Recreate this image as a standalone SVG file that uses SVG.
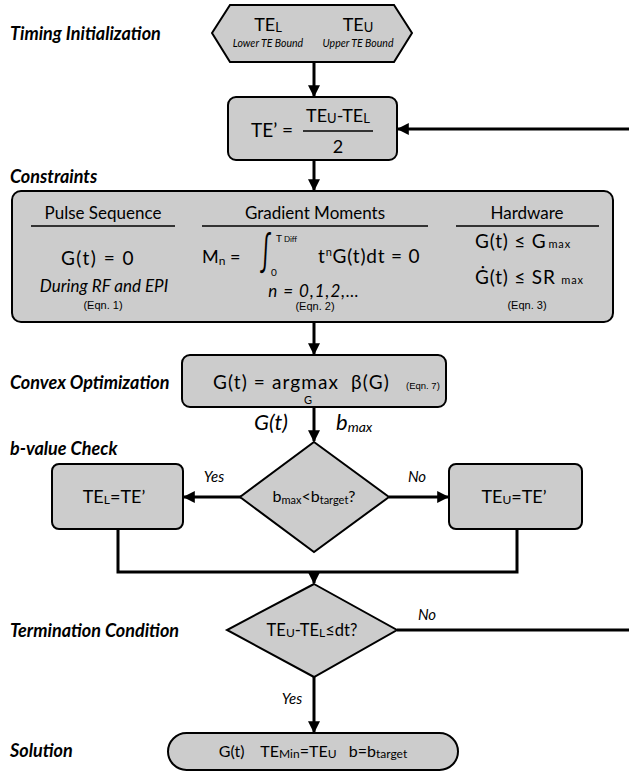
<svg xmlns="http://www.w3.org/2000/svg" width="629" height="774" viewBox="0 0 629 774">
<style>
.n{fill:#cccccc;stroke:#000;stroke-width:2}
.c{stroke:#000;stroke-width:3;fill:none}
.u{stroke:#000;stroke-width:1.5}
text{font-family:Lato,'Open Sans','Liberation Sans',sans-serif;fill:#000}
.lab{font-style:italic;font-weight:bold;font-size:18px}
.eq{font-family:'Liberation Sans',Arial,sans-serif;font-size:11px}
.it{font-style:italic}
</style>
<defs>
<marker id="ah" viewBox="0 0 10 10" refX="9" refY="5" markerWidth="4" markerHeight="4" orient="auto"><path d="M0,0L10,5L0,10z" fill="#000"/></marker>
</defs>

<g id="labels">
<text class="lab" x="10" y="40">Timing Initialization</text>
<text class="lab" x="10" y="183">Constraints</text>
<text class="lab" x="10" y="389">Convex Optimization</text>
<text class="lab" x="10" y="455">b-value Check</text>
<text class="lab" x="10" y="637">Termination Condition</text>
<text class="lab" x="10" y="757">Solution</text>
</g>

<g id="connectors">
<line class="c" x1="314" y1="62" x2="314" y2="96" marker-end="url(#ah)"/>
<line class="c" x1="629" y1="129" x2="398" y2="129" marker-end="url(#ah)"/>
<line class="c" x1="314" y1="160" x2="314" y2="190" marker-end="url(#ah)"/>
<line class="c" x1="314" y1="322" x2="314" y2="354" marker-end="url(#ah)"/>
<line class="c" x1="314" y1="407" x2="314" y2="441" marker-end="url(#ah)"/>
<line class="c" x1="241" y1="497" x2="184" y2="497" marker-end="url(#ah)"/>
<line class="c" x1="389" y1="497" x2="448" y2="497" marker-end="url(#ah)"/>
<polyline class="c" points="118,529 118,572 517,572 517,529"/>
<line class="c" x1="314" y1="572" x2="314" y2="583" marker-end="url(#ah)"/>
<line class="c" x1="397" y1="630" x2="629" y2="630"/>
<line class="c" x1="314" y1="677" x2="314" y2="732" marker-end="url(#ah)"/>
<text class="it" x="214" y="482" font-size="15" text-anchor="middle">Yes</text>
<text class="it" x="417" y="482" font-size="15" text-anchor="middle">No</text>
<text class="it" x="427" y="620" font-size="15" text-anchor="middle">No</text>
<text class="it" x="292" y="704" font-size="15" text-anchor="middle">Yes</text>
<text class="it" x="271" y="430" font-size="22" text-anchor="middle">G(t)</text>
<text class="it" x="336" y="430" font-size="22">b<tspan font-size="14" dy="2">max</tspan></text>
</g>

<g id="init">
<polygon class="n" points="212,33 230,5 394,5 412,33 394,62 230,62"/>
<text x="268" y="31" font-size="18" text-anchor="middle">TE<tspan font-size="13" dy="1">L</tspan></text>
<text x="268" y="47" font-size="10.5" class="it" text-anchor="middle">Lower TE Bound</text>
<text x="358" y="31" font-size="18" text-anchor="middle">TE<tspan font-size="13" dy="1">U</tspan></text>
<text x="358" y="47" font-size="10.5" class="it" text-anchor="middle">Upper TE Bound</text>
</g>

<g id="teprime">
<rect class="n" x="228" y="97" width="169" height="63" rx="8"/>
<text x="272" y="137" font-size="19" text-anchor="middle">TE’ =</text>
<text x="338" y="122" font-size="18" text-anchor="middle">TE<tspan font-size="13" dy="1">U</tspan><tspan dy="-1">-TE</tspan><tspan font-size="13" dy="1">L</tspan></text>
<line x1="303" y1="131" x2="373" y2="131" stroke="#000" stroke-width="1.5"/>
<text x="338" y="153" font-size="18" text-anchor="middle">2</text>
</g>

<g id="constraints">
<rect class="n" x="12" y="191" width="601" height="131" rx="9"/>
<text x="103" y="219" font-size="17" text-anchor="middle">Pulse Sequence</text>
<line class="u" x1="31" y1="226" x2="175" y2="226"/>
<text x="315" y="219" font-size="17" text-anchor="middle">Gradient Moments</text>
<line class="u" x1="202" y1="226" x2="428" y2="226"/>
<text x="527" y="219" font-size="17" text-anchor="middle">Hardware</text>
<line class="u" x1="456" y1="226" x2="599" y2="226"/>
<text x="98" y="265" font-size="19" text-anchor="middle" letter-spacing="1.5">G(t) = 0</text>
<text x="104" y="292" font-size="17" class="it" text-anchor="middle">During RF and EPI</text>
<text class="eq" x="103" y="309" text-anchor="middle">(Eqn. 1)</text>
<text x="202" y="263" font-size="18">M<tspan font-size="12" dy="2">n</tspan><tspan dy="-2"> =</tspan></text>
<text transform="translate(260,266) scale(1,1.9)" font-size="22" font-family="'DejaVu Sans',sans-serif">∫</text>
<text x="276" y="242" font-size="10">T<tspan font-size="8" dx="2">Diff</tspan></text>
<text x="271" y="276" font-size="10">0</text>
<text x="318" y="263" font-size="19" letter-spacing="0.8">t<tspan font-size="11" dy="-7">n</tspan><tspan dy="7">G(t)dt = 0</tspan></text>
<text x="314" y="297" font-size="17" class="it" text-anchor="middle" letter-spacing="1">n = 0,1,2,…</text>
<text class="eq" x="315" y="310" text-anchor="middle">(Eqn. 2)</text>
<text x="475" y="248" font-size="19" letter-spacing="0.8">G(t) ≤ G<tspan font-size="11" dx="2">max</tspan></text>
<text x="475" y="284" font-size="19" letter-spacing="0.8">Ġ(t) ≤ SR <tspan font-size="11">max</tspan></text>
<text class="eq" x="527" y="309" text-anchor="middle">(Eqn. 3)</text>
</g>

<g id="convex">
<rect class="n" x="182" y="355" width="264" height="52" rx="8"/>
<text x="213" y="389" font-size="19" xml:space="preserve" letter-spacing="1.1">G(t) = argmax  β(G)</text>
<text x="308" y="404" font-size="11" text-anchor="middle">G</text>
<text class="eq" x="406" y="389" style="font-size:9.5px">(Eqn. 7)</text>
</g>

<g id="bcheck">
<polygon class="n" points="314,442 389,497 314,552 240,497"/>
<text x="314" y="502" font-size="16" text-anchor="middle">b<tspan font-size="11" dy="2">max</tspan><tspan dy="-2">&lt;b</tspan><tspan font-size="11" dy="2">target</tspan><tspan dy="-2">?</tspan></text>
</g>

<g id="setlower">
<rect class="n" x="52" y="464" width="131" height="65" rx="7"/>
<text x="114" y="503" font-size="18" text-anchor="middle">TE<tspan font-size="12" dy="1">L</tspan><tspan dy="-1">=TE’</tspan></text>
</g>

<g id="setupper">
<rect class="n" x="449" y="464" width="133" height="65" rx="7"/>
<text x="514" y="503" font-size="18" text-anchor="middle">TE<tspan font-size="12" dy="1">U</tspan><tspan dy="-1">=TE’</tspan></text>
</g>

<g id="terminate">
<polygon class="n" points="314,584 397,630 314,677 227,630"/>
<text x="312" y="636" font-size="16.5" text-anchor="middle">TE<tspan font-size="12" dy="1">U</tspan><tspan dy="-1">-TE</tspan><tspan font-size="12" dy="1">L</tspan><tspan dy="-1">≤dt?</tspan></text>
</g>

<g id="solution">
<rect class="n" x="168" y="733" width="290" height="37" rx="18.5"/>
<text x="313" y="757" font-size="16" text-anchor="middle" xml:space="preserve">G(t)    TE<tspan font-size="12" dy="1">Min</tspan><tspan dy="-1">=TE</tspan><tspan font-size="12" dy="1">U</tspan><tspan dy="-1">   b=b</tspan><tspan font-size="12" dy="1">target</tspan></text>
</g>
</svg>
